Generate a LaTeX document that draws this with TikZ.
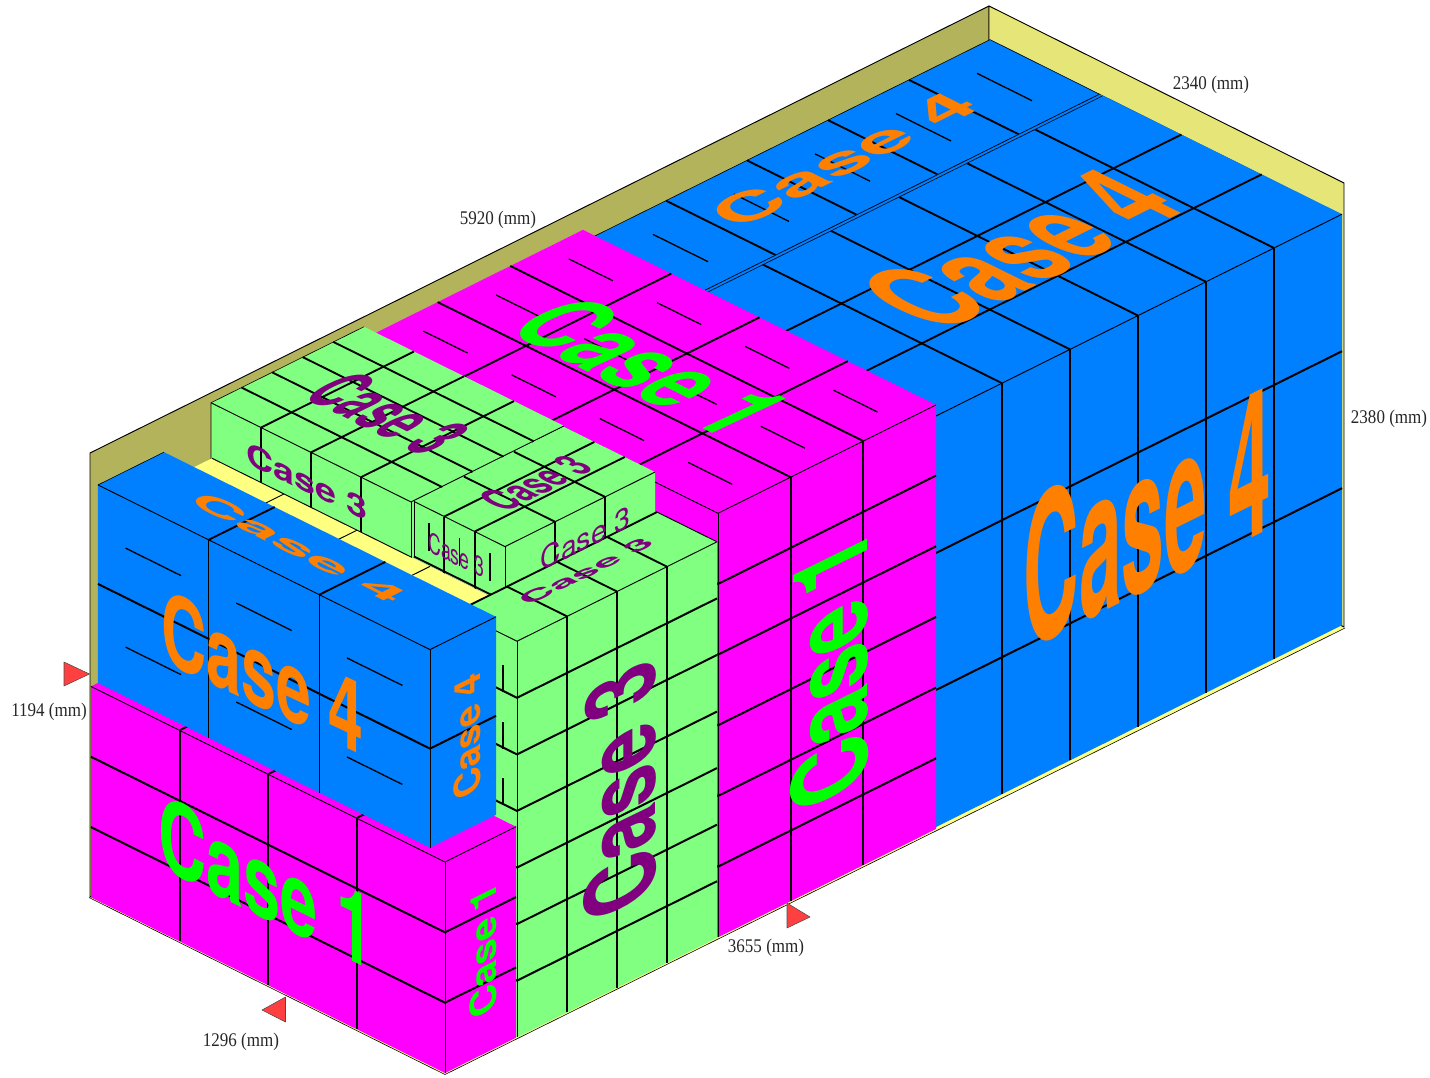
\documentclass[tikz,border=0pt]{standalone}
\usepackage{fontspec}
\newfontfamily\casefont{TeX Gyre Heros}
\newfontfamily\lblfont{Liberation Serif}
\definecolor{cblue}{HTML}{0080FF}
\definecolor{cmag}{HTML}{FF00FF}
\definecolor{cgreen}{HTML}{80FF80}
\definecolor{corange}{HTML}{FF8000}
\definecolor{clime}{HTML}{00FF00}
\definecolor{cpurple}{HTML}{800080}
\definecolor{cyellow}{HTML}{FFFF80}
\definecolor{colive}{HTML}{B3B35C}
\definecolor{cwall}{HTML}{E6E678}
\definecolor{cred}{HTML}{FF4040}
\newcounter{ctn}
\tikzset{
  iso/.style={shift={(445,1073)},x={(.75pt,.37275pt)},y={(-.75pt,.372pt)},z={(0pt,.75pt)}},
  gridv/.style={line width=1.5pt},
  gridh/.style={line width=1.5pt},
  gridt/.style={line width=1.4pt},
  edge/.style={line width=.7pt},
  fine/.style={line width=.45pt},
  tick/.style={line width=1pt},
  redmark/.style={fill=cred,draw=black!70,line width=.4pt},
  lbl/.style={inner sep=0pt,font=\lblfont\fontsize{14.5}{16}\selectfont,text=black!85},
}
% Block: colour, then l0,dl,nl ; w0,dw,nw ; h0,dh,nh
\def\getthree#1,#2,#3;#4#5#6{\def#4{#1}\def#5{#2}\def#6{#3}}
\newcommand\Block[4]{%
 \getthree#2;\lz\ld\ln
 \getthree#3;\wz\wd\wn
 \getthree#4;\hz\hd\hn
 \pgfmathsetmacro\lE{\lz+\ld*\ln}
 \pgfmathsetmacro\wE{\wz+\wd*\wn}
 \pgfmathsetmacro\hE{\hz+\hd*\hn}
 \fill[#1] (\lz,\wz,\hz) -- (\lz,\wE,\hz) -- (\lz,\wE,\hE) -- (\lz,\wz,\hE) -- cycle;
 \fill[#1] (\lz,\wz,\hz) -- (\lE,\wz,\hz) -- (\lE,\wz,\hE) -- (\lz,\wz,\hE) -- cycle;
 \fill[#1] (\lz,\wz,\hE) -- (\lE,\wz,\hE) -- (\lE,\wE,\hE) -- (\lz,\wE,\hE) -- cycle;
 \foreach \i in {0,...,\wn}{\ifnum\i>0 \ifnum\i<\wn
   \pgfmathsetmacro\a{\wz+\wd*\i}
   \draw[gridv] (\lz,\a,\hz) -- (\lz,\a,\hE);
   \draw[gridt] (\lz,\a,\hE) -- (\lE,\a,\hE);
 \fi\fi}
 \foreach \i in {0,...,\ln}{\ifnum\i>0 \ifnum\i<\ln
   \pgfmathsetmacro\a{\lz+\ld*\i}
   \draw[gridv] (\a,\wz,\hz) -- (\a,\wz,\hE);
   \draw[gridt] (\a,\wz,\hE) -- (\a,\wE,\hE);
 \fi\fi}
 \foreach \i in {0,...,\hn}{\ifnum\i>0 \ifnum\i<\hn
   \pgfmathsetmacro\a{\hz+\hd*\i}
   \draw[gridh] (\lz,\wE,\a) -- (\lz,\wz,\a) -- (\lE,\wz,\a);
 \fi\fi}
 \draw[edge] (\lz,\wE,\hE) -- (\lz,\wz,\hE) -- (\lE,\wz,\hE);
 \draw[edge] (\lz,\wz,\hE) -- (\lz,\wz,\hz);
}
% tick marks on a top surface, along W, centred in each cell
\newcommand\TopTicks[3]{%
 \getthree#1;\lz\ld\ln
 \getthree#2;\wz\wd\wn
 \pgfmathtruncatemacro\lm{\ln-1}
 \pgfmathtruncatemacro\wm{\wn-1}
 \foreach \i in {0,...,\lm}{\foreach \j in {0,...,\wm}{
   \pgfmathsetmacro\a{\lz+\ld*(\i+.5)}
   \pgfmathsetmacro\b{\wz+\wd*(\j+.25)}
   \pgfmathsetmacro\c{\wz+\wd*(\j+.75)}
   \draw[tick] (\a,\b,#3) -- (\a,\c,#3);
 }}
}
\def\CTfont{\bfseries}\def\CTw{32.24}
% colour, sx,sy, ex,ey, ux,uy, text : all in picture pixels, y down
\newcommand\CT[8]{%
 \pgfmathsetmacro\ca{(#4-#2)*.75/\CTw}
 \pgfmathsetmacro\cb{-(#5-#3)*.75/\CTw}
 \pgfmathsetmacro\cc{(#6)*.75/7.2}
 \pgfmathsetmacro\cd{-(#7)*.75/7.2}
 \stepcounter{ctn}
 \node (ct\thectn) [cm={\ca,\cb,\cc,\cd,(#2,#3)},transform shape,inner sep=0pt,anchor=base west,
   text=#1,font=\casefont\CTfont\fontsize{10}{12}\selectfont] at (0,0) {#8};
}
\begin{document}
\begin{tikzpicture}[x=.75pt,y=-.75pt,line join=round]
\useasboundingbox (0,0) rectangle (1430,1077);
% container
\fill[cyellow] (445,1074) -- (89,897) -- (989,450) -- (1345,627.5) -- cycle;
\draw[fine] (445,1074.5) -- (89,897.5);
\draw[fine] (445,1074.5) -- (1345,628);
\draw[edge,fill=colive] (90,897) -- (90,453) -- (989,6) -- (989,450) -- cycle;
\draw[edge,fill=cwall] (989,450) -- (989,6) -- (1344,183) -- (1344,627) -- cycle;
\begin{scope}[iso]
 % back stack of Case 4
 \Block{cblue}{494,81,5}{244,110,1}{0,137,3}
 \TopTicks{494,81,5}{244,110,1}{411}
 \draw[fine] (899,3,410) -- (899,354,411) -- (494,354,411);
 \tikzset{gridv/.style={line width=1.2pt}}
 \Block{cblue}{491,68,6}{2,80.3,3}{0,137,3}
 \tikzset{gridv/.style={line width=1.5pt}}
 \fill[cblue] (494,241.7,410.5) -- (899,241.7,410.5) -- (899,245,410.5) -- (494,245,410.5) -- cycle;
 \draw[fine] (494,241.5,410.5) -- (899,241.5,410.5);
 \draw[fine] (494,244.7,410.5) -- (899,244.7,410.5);
 % back stack of Case 1
 \Block{cmag}{273,72.67,3}{0,88.25,4}{0,70.67,6}
 \TopTicks{273,72.67,3}{0,88.25,4}{424}
 % back top layer of Case 3
 \Block{cgreen}{118,30.6,5}{152,50,4}{380,57,1}
 \draw[fine] (118,352,380) -- (118,352,437) -- (271,352,437);
 \Block{cgreen}{120,50,3}{60,30.33,3}{380,57,1}
 \draw[fine] (120,151,382) -- (120,151,437);
 % yellow layer
 \fill[cyellow] (40,60,382) -- (118,60,382) -- (118,351,382) -- (40,351,382) -- cycle;
 \draw[edge] (118,151,382) -- (118,351,382);
 \draw[line width=1.4pt] (120,60,382) -- (120,151,382);
 \draw[edge] (80,279,382) -- (118,279,382);
 \draw[edge] (80,206,382) -- (118,206,382);
 \draw[edge] (80,133,382) -- (118,133,382);
 % ticks on the front of the Case 3 top layer
 \foreach \w in {75,105.5,136}{\draw[tick] (120,\w,395) -- (120,\w,423);}
 % tall Case 3 stack
 \Block{cgreen}{72,50,4}{0,60,1}{0,56.57,7}
 \draw[line width=1.4pt] (72,60,396) -- (272,60,396);
 \draw[edge] (272,0,396) -- (272,60,396);
 \foreach \h in {14,70.5,127}{\draw[tick,line width=1.2pt] (72,14,211+\h) -- (72,14,211+\h+27);}
 % front lower Case 1
 \Block{cmag}{0,71,1}{0,88.5,4}{0,70.33,3}
 % front upper Case 4
 \tikzset{gridv/.style={line width=.9pt}}
 \Block{cblue}{7,66,1}{22,110.67,3}{211,99,2}
 \tikzset{gridv/.style={line width=1.5pt}}
 \draw[fine] (7,354,409) -- (73,354,409);
 \foreach \i in {0,1,2}{\foreach \k in {0,1}{
   \pgfmathsetmacro\b{22+110.67*(\i+.25)}
   \pgfmathsetmacro\c{22+110.67*(\i+.75)}
   \pgfmathsetmacro\h{211+99*(\k+.5)}
   \draw[tick] (7,\b,\h) -- (7,\c,\h);
 }}
\end{scope}
% texts
\CT{corange}{1022}{652}{1270}{529}{0}{-146}{Case 4}
\CT{corange}{939}{334}{1188}{210}{-89}{-44}{Case 4}
\CT{corange}{738}{230}{982}{108}{-36}{-18}{Case 4}
\CT{clime}{867}{785}{867}{526}{-75}{37}{Case 1}
\CT{cpurple}{655}{897}{655}{655}{-70}{34}{Case 3}
\CT{corange}{160}{660}{362}{755}{0}{-72}{Case 4}
\CT{clime}{157}{866}{372}{971}{0}{-73}{Case 1}
\CT{corange}{480}{791}{480}{670}{-26}{13}{Case 4}
\CT{clime}{496}{1010}{496}{881}{-26}{13}{Case 1}
\CT{corange}{185}{501}{390}{604}{20}{-10}{Case 4}
\CT{cpurple}{300}{396}{422}{456}{53}{-26}{Case 3}
\CT{clime}{502}{329}{723}{439}{75}{-35}{Case 1}
\CT{cpurple}{505}{513}{595}{469}{-30}{-15}{Case 3}
\CT{cpurple}{529}{606}{656}{544}{-14}{-7}{Case 3}
\CT{cpurple}{246}{463}{367}{521}{0}{-22}{Case 3}
\def\CTfont{\mdseries}\def\CTw{31.68}
\CT{cpurple}{428}{551}{484}{578}{0}{-20}{Case 3}
\CT{cpurple}{540}{572}{630}{527}{0}{-22}{Case 3}
% red markers
\path[redmark] (64,662) -- (89.5,674) -- (64,686) -- cycle;
\path[redmark] (285.5,997) -- (262,1010) -- (285.5,1022) -- cycle;
\path[redmark] (787,903) -- (810,917) -- (787,928) -- cycle;
% dimension labels
\node (d1) [lbl] at (498,219.5) {\scalebox{.88}[1]{5920 (mm)}};
\node (d2) [lbl] at (1211,84.5) {\scalebox{.88}[1]{2340 (mm)}};
\node (d3) [lbl] at (1389,418.5) {\scalebox{.88}[1]{2380 (mm)}};
\node (d4) [lbl] at (49,711.5) {\scalebox{.88}[1]{1194 (mm)}};
\node (d5) [lbl] at (241,1041.5) {\scalebox{.88}[1]{1296 (mm)}};
\node (d6) [lbl] at (766,947.5) {\scalebox{.88}[1]{3655 (mm)}};
\end{tikzpicture}
\end{document}
